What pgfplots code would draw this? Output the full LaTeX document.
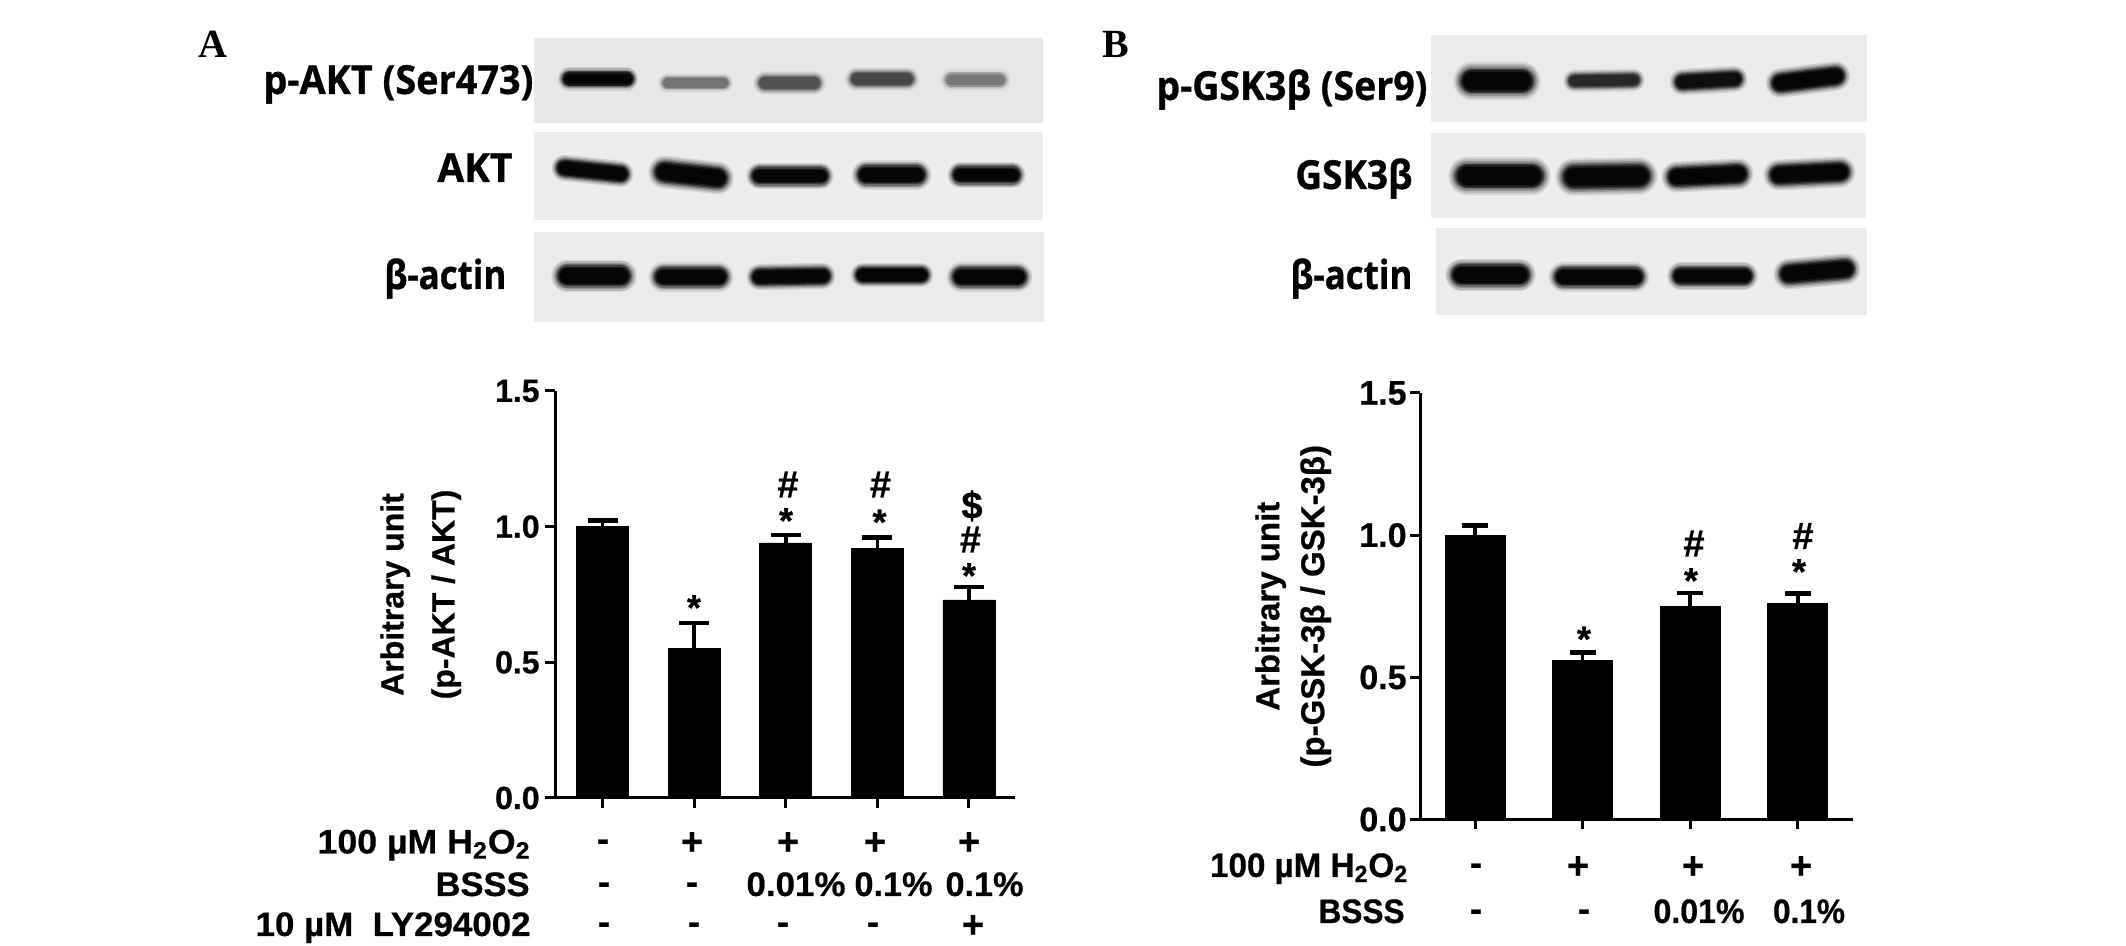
\documentclass[border=0pt]{standalone}
\usepackage{fontspec}
\usepackage{graphicx}
\usepackage{pgfplots}
\pgfplotsset{compat=1.18}
\setmainfont{Liberation Sans}[BoldFeatures={FakeBold=0.6}]
\newfontfamily\blotfont{Open Sans}[BoldFeatures={FakeBold=0.8}]
\newfontfamily\letterfont{Liberation Serif}

% ---- helpers: all positions in reference pixels (1 px = 0.5 pt)
\newcommand\FitText[6]{\node[anchor=#1,inner sep=0pt] at ({(#2)*0.5pt},{(946-(#3))*0.5pt})
  {\resizebox{\dimexpr#4pt/2\relax}{\height}{\fontsize{#5}{#5}\selectfont\bfseries #6}};}
\newcommand\FitBlot[6]{\node[anchor=#1,inner sep=0pt] at ({(#2)*0.5pt},{(946-(#3))*0.5pt})
  {\resizebox{\dimexpr#4pt/2\relax}{\height}{\blotfont\fontsize{#5}{#5}\selectfont\bfseries #6}};}
\newcommand\Plus[2]{\node[anchor=base,inner sep=0pt] at ({(#1)*0.5pt},{(946-(#2)-12.5)*0.5pt})
  {\fontsize{19}{19}\selectfont\bfseries +};}
\newcommand\Minus[2]{\node[anchor=base,inner sep=0pt] at ({(#1)*0.5pt},{(946-(#2)-9)*0.5pt})
  {\fontsize{18}{18}\selectfont\bfseries -};}
\newcommand\Star[2]{\node[anchor=base,inner sep=0pt] at ({(#1)*0.5pt},{(946-(#2)-23)*0.5pt})
  {\fontsize{18}{18}\selectfont\bfseries *};}
\newcommand\Hash[2]{\node[anchor=base,inner sep=0pt] at ({(#1)*0.5pt},{(946-(#2)-13.5)*0.5pt})
  {\fontsize{19}{19}\selectfont\bfseries \#};}
\newcommand\Dollar[2]{\node[anchor=base,inner sep=0pt] at ({(#1)*0.5pt},{(946-(#2)-13.5)*0.5pt})
  {\fontsize{19}{19}\selectfont\bfseries \$};}

% membrane panel
\newcommand\Panel[5]{\addplot[draw=none,fill=#5,forget plot] coordinates {(#1,#3) (#2,#3) (#2,#4) (#1,#4)} --cycle;}
% soft band: x1 x2 yleft yright thickness strength
\newcommand\Layer[7]{\addplot[draw=black,line cap=round,line width={#5*#7*0.5pt},opacity={#6},forget plot]
   coordinates {(\xa,#3) (\xb,#4)};}
\newcommand\Band[6]{%
  \pgfmathsetmacro\xa{#1+#5*0.5}\pgfmathsetmacro\xb{#2-#5*0.5}%
  \Layer{#1}{#2}{#3}{#4}{#5}{0.10*#6}{1.55}%
  \Layer{#1}{#2}{#3}{#4}{#5}{0.14*#6}{1.40}%
  \Layer{#1}{#2}{#3}{#4}{#5}{0.20*#6}{1.25}%
  \Layer{#1}{#2}{#3}{#4}{#5}{0.28*#6}{1.12}%
  \Layer{#1}{#2}{#3}{#4}{#5}{0.40*#6}{1.0}%
  \Layer{#1}{#2}{#3}{#4}{#5}{0.55*#6}{0.88}%
  \Layer{#1}{#2}{#3}{#4}{#5}{0.75*#6}{0.72}%
}

\pgfplotsset{
  barchart/.style={
    scale only axis,
    axis x line*=bottom, axis y line*=left,
    axis line style={-,line width=1.5pt,black},
    tick style={line width=1.5pt,black},
    tick align=outside, major tick length=5pt,
    ymin=0,ymax=1.5,
    ytick={0,0.5,1,1.5},
    xtick=data, xticklabels={},
    clip=false,
  },
  tl/.style 2 args={yticklabel style={font=\fontsize{#1}{#1}\selectfont\bfseries,
      /pgf/number format/assume math mode=true,
      /pgf/number format/fixed,/pgf/number format/fixed zerofill,/pgf/number format/precision=1,
      inner sep=0pt,xshift=#2}},
}

\begin{document}
\begin{tikzpicture}
\path[use as bounding box] (0,0) rectangle (1063pt,473pt);

% ------ membranes
\begin{axis}[at={(0pt,0pt)},anchor=south west,scale only axis,width=1063pt,height=473pt,
  xmin=0,xmax=2126,ymin=0,ymax=946,y dir=reverse,hide axis]
\Panel{534}{1043}{38}{123}{black!9}
\Panel{534}{1043}{132}{220}{black!7}
\Panel{534}{1044}{232}{322}{black!8}
\Panel{1431}{1867}{35}{122}{black!8}
\Panel{1431}{1866}{133}{218}{black!7}
\Panel{1436}{1867}{228}{315}{black!7}
% A p-AKT
\Band{562}{634}{79}{79}{15}{1}
\Band{661}{730}{83}{83}{13}{0.26}
\Band{757}{822}{83}{83}{16}{0.38}
\Band{849}{915}{79}{79}{16}{0.42}
\Band{944}{1007}{80}{80}{15}{0.25}
% A AKT
\Band{556}{629}{168}{174}{17}{1}
\Band{654}{728}{172}{178}{21}{1}
\Band{751}{829}{176}{176}{17}{1}
\Band{857}{926}{175}{175}{19}{1}
\Band{952}{1021}{175}{175}{17}{1}
% A actin
\Band{557}{631}{276}{276}{21}{1}
\Band{654}{728}{277}{277}{19}{1}
\Band{751}{831}{277}{276}{17}{1}
\Band{855}{929}{275}{275}{16}{1}
\Band{952}{1027}{277}{277}{19}{1}
% B p-GSK3b
\Band{1460}{1534}{81}{81}{24}{1}
\Band{1567}{1641}{81}{80}{15}{0.6}
\Band{1674}{1743}{82}{79}{17}{0.85}
\Band{1771}{1845}{83}{76}{19}{1}
% B GSK3b
\Band{1455}{1544}{176}{176}{24}{1}
\Band{1562}{1651}{177}{176}{24}{1}
\Band{1667}{1748}{177}{174}{20}{1}
\Band{1769}{1850}{175}{172}{20}{1}
% B actin
\Band{1451}{1530}{275}{275}{21}{1}
\Band{1554}{1644}{277}{277}{19}{1}
\Band{1672}{1753}{276}{276}{18}{1}
\Band{1779}{1855}{274}{269}{20}{1}
\end{axis}

% ------ chart A
\begin{axis}[barchart,tl={16}{-2.5pt},at={(277.5pt,74pt)},anchor=south west,width=230pt,height=203.5pt,
  xmin=-0.519,xmax=4.503,
  every axis y label/.style={at={(axis description cs:-0.292,0.5)},rotate=90,anchor=center,align=center,
       font=\fontsize{16}{25.5}\selectfont\bfseries},
  ylabel={Arbitrary unit\\(p-AKT / AKT)}]
\addplot[ybar,bar width=26pt,bar shift=0pt,fill=black,draw=black,
  error bars/.cd,y dir=plus,y explicit,
  error bar style={line width=1.8pt,black},
  error mark options={rotate=90,mark size=7.5pt,line width=2.2pt,black}]
  coordinates {(0,1.00) +- (0,0.022)
               (1,0.55) +- (0,0.096)
               (2,0.94) +- (0,0.030)
               (3,0.92) +- (0,0.040)
               (4,0.73) +- (0,0.048)};
\end{axis}

% ------ chart B
\begin{axis}[barchart,tl={17}{-1.5pt},at={(710pt,63.25pt)},anchor=south west,width=216.5pt,height=213.25pt,
  xmin=-0.511,xmax=3.513,
  every axis y label/.style={at={(axis description cs:-0.293,0.5)},rotate=90,anchor=center,align=center,
       font=\fontsize{16.5}{22.5}\selectfont\bfseries},
  ylabel={Arbitrary unit\\(p-GSK-3β / GSK-3β)}]
\addplot[ybar,bar width=30pt,bar shift=0pt,fill=black,draw=black,
  error bars/.cd,y dir=plus,y explicit,
  error bar style={line width=1.8pt,black},
  error mark options={rotate=90,mark size=6.5pt,line width=2.2pt,black}]
  coordinates {(0,1.00) +- (0,0.034)
               (1,0.56) +- (0,0.028)
               (2,0.75) +- (0,0.046)
               (3,0.76) +- (0,0.035)};
\end{axis}

% ------ panel letters
\node[anchor=base,inner sep=0pt] at ({212.5*0.5pt},{(946-58)*0.5pt}) {\letterfont\fontsize{20}{20}\selectfont\bfseries A};
\node[anchor=base,inner sep=0pt] at ({1116*0.5pt},{(946-58)*0.5pt}) {\letterfont\fontsize{20}{20}\selectfont\bfseries B};

% ------ blot labels
\FitBlot{base west}{263}{94}{270}{20}{p-AKT (Ser473)}
\FitBlot{base west}{437}{182}{75}{20}{AKT}
\FitBlot{base west}{384}{289}{122}{20}{β-actin}
\FitBlot{base west}{1156}{100}{271}{20}{p-GSK3β (Ser9)}
\FitBlot{base west}{1295}{189}{117}{20}{GSK3β}
\FitBlot{base west}{1290}{289}{122}{20}{β-actin}

% ------ treatment rows A
\FitText{base east}{531}{853.5}{213}{17}{100 µM H\textsubscript{2}O\textsubscript{2}}
\FitText{base east}{530}{896}{94}{17}{BSSS}
\FitText{base east}{531}{936}{275}{17}{10 µM\ \ LY294002}
\Minus{603}{842}\Plus{692}{842}\Plus{788}{842}\Plus{875}{842}\Plus{969}{842}
\Minus{604}{885}\Minus{692}{885}
\FitText{base}{796}{896}{99}{17}{0.01\%}
\FitText{base}{893.5}{896}{78}{17}{0.1\%}
\FitText{base}{984.5}{896}{78}{17}{0.1\%}
\Minus{604}{925}\Minus{694}{925}\Minus{783}{925}\Minus{873}{925}\Plus{973}{925}

% ------ significance A
\Star{694}{597}
\Hash{788}{484}\Star{786}{510}
\Hash{880.5}{484}\Star{879.5}{511.5}
\Dollar{972}{505}\Hash{970.5}{539}\Star{969}{565}

% ------ treatment rows B
\FitText{base east}{1408.5}{877}{198}{17}{100 µM H\textsubscript{2}O\textsubscript{2}}
\FitText{base east}{1405}{923}{86}{17}{BSSS}
\Minus{1476}{866}\Plus{1578}{866}\Plus{1693}{866}\Plus{1801}{866}
\Minus{1476}{912}\Minus{1584}{912}
\FitText{base}{1699}{923}{91}{17}{0.01\%}
\FitText{base}{1809}{923}{72}{17}{0.1\%}

% ------ significance B
\Star{1584}{628.5}
\Hash{1694}{543}\Star{1691}{570}
\Hash{1803}{535.5}\Star{1799}{561}
\end{tikzpicture}
\end{document}
